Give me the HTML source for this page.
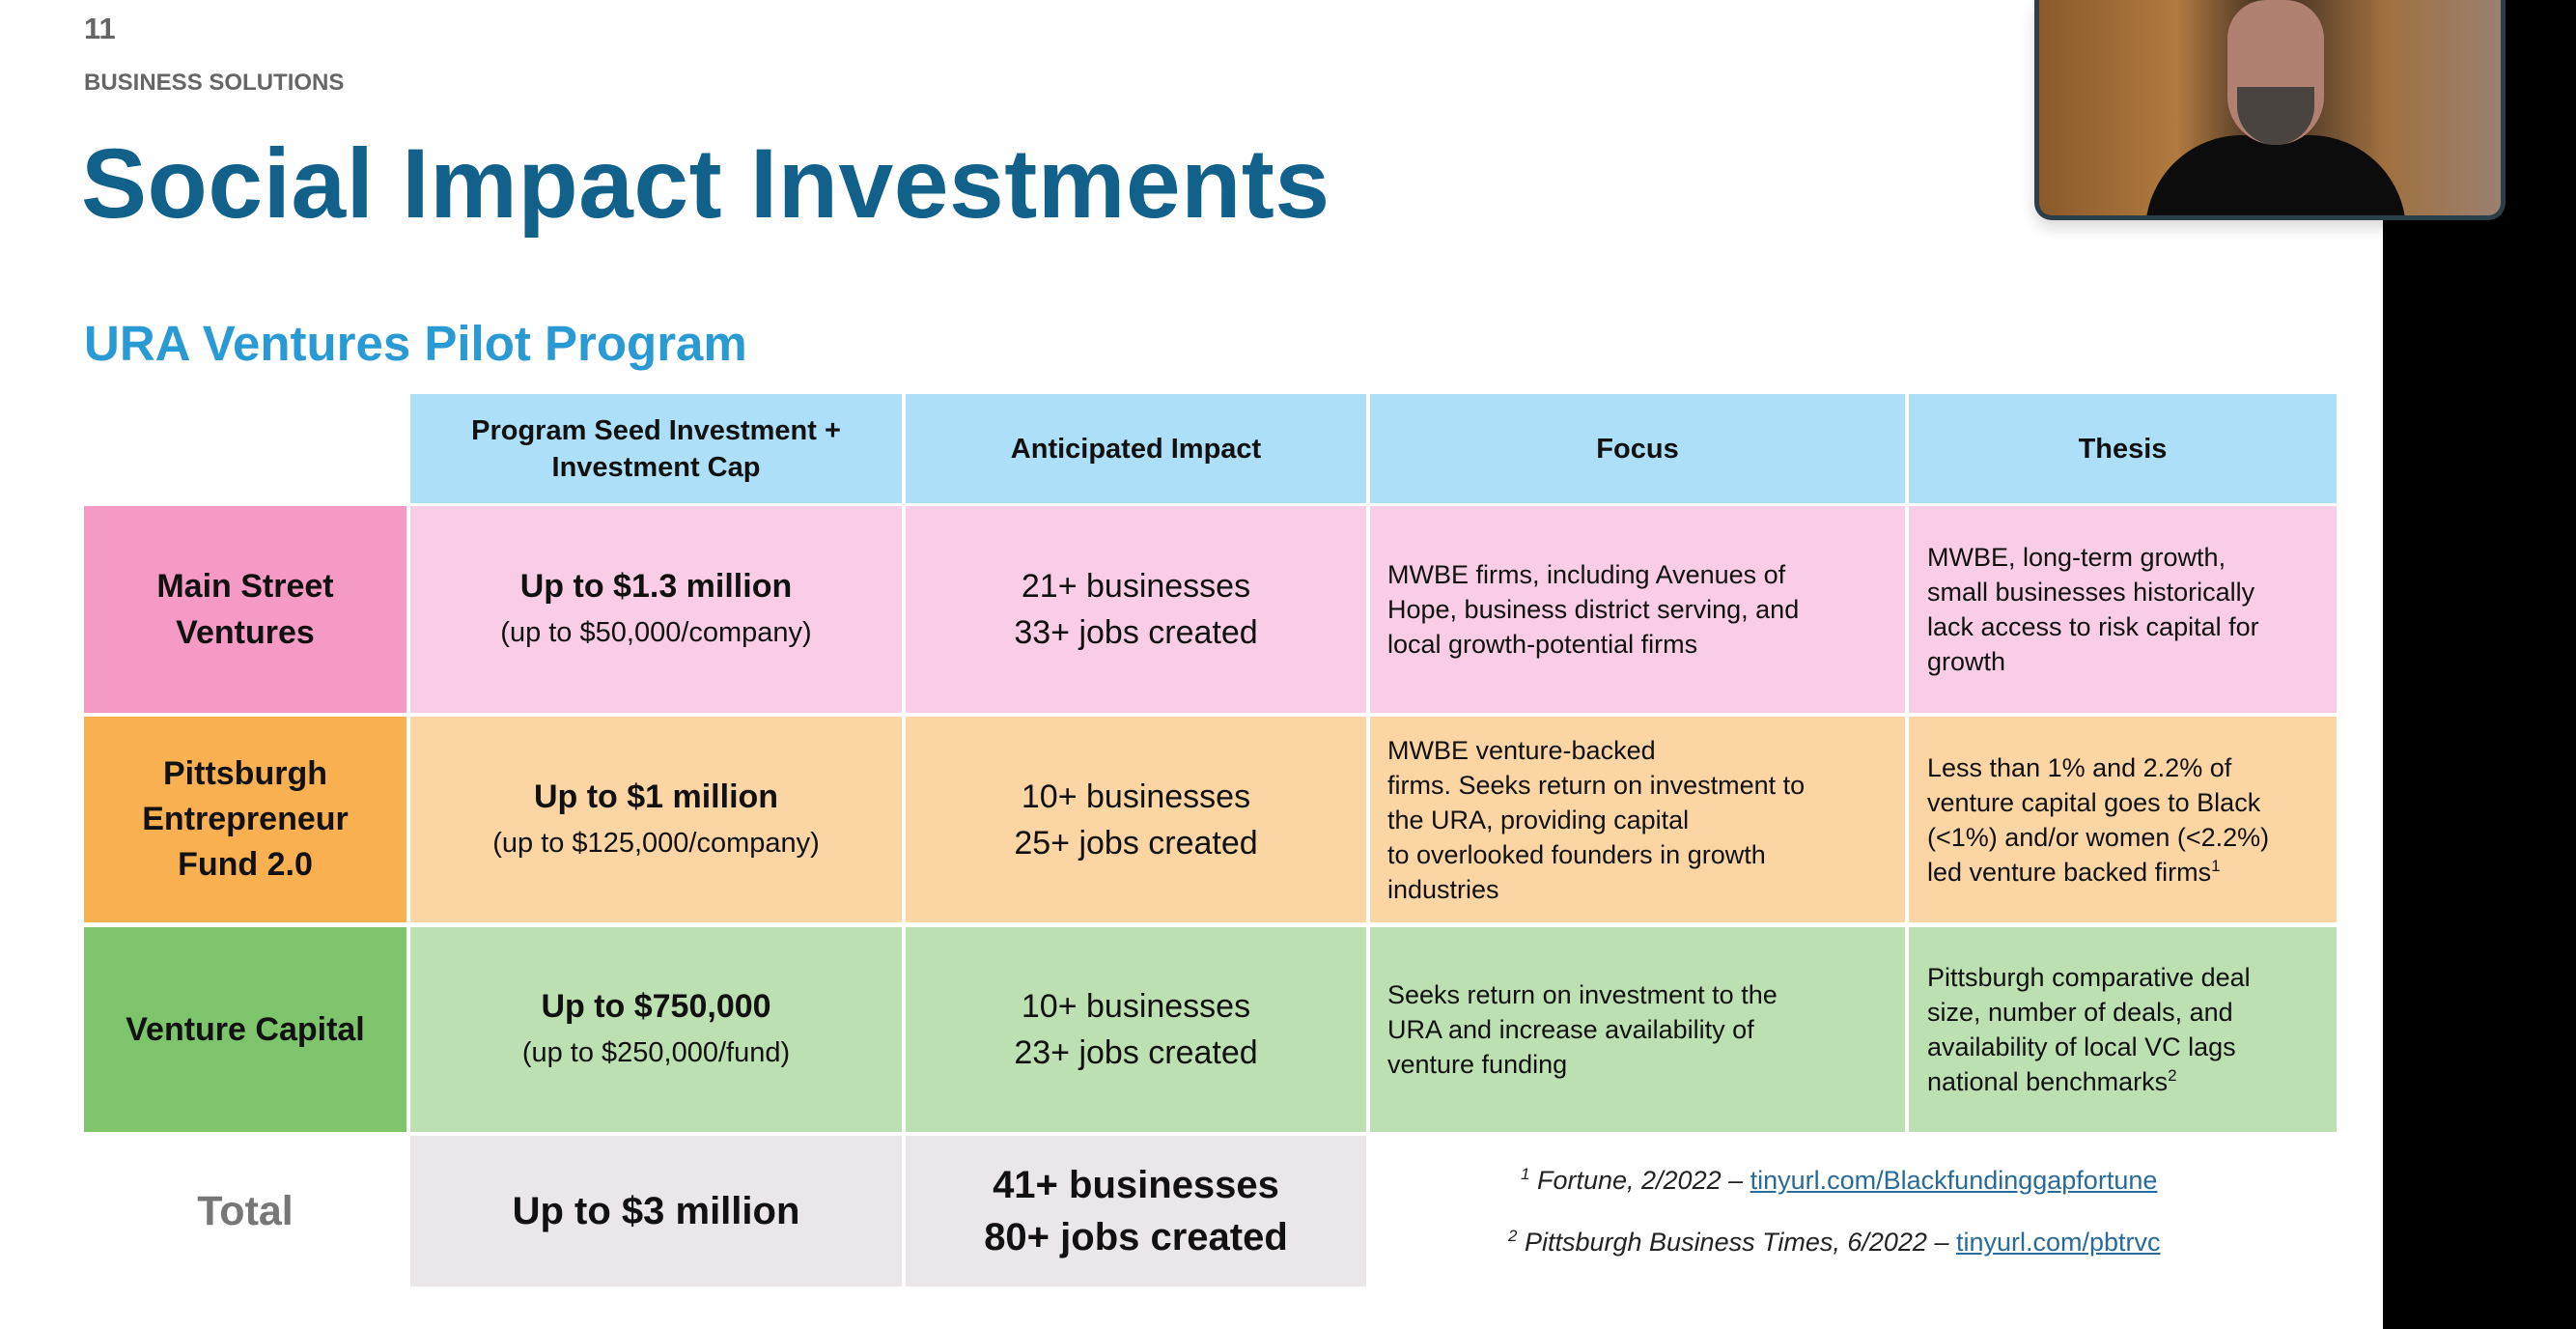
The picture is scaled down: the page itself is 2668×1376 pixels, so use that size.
<!DOCTYPE html>
<html><head><meta charset="utf-8"><style>
*{margin:0;padding:0;box-sizing:border-box}
body{width:2668px;height:1376px;background:#fff;position:relative;overflow:hidden;font-family:"Liberation Sans",Arial,sans-serif;color:#111}
.a{position:absolute}
.c{position:absolute;display:flex;flex-direction:column;justify-content:center;align-items:center;text-align:center}
.l{align-items:flex-start;text-align:left;padding-left:18px}
.h{background:#ade0f8;font-weight:bold;font-size:29px;line-height:38px}
.b{font-weight:bold}
.p1{background:#f9cde5}.p2{background:#fcd5a4}.p3{background:#bde0b2}
.t{font-size:27px;line-height:36px}
.m{font-size:34px;line-height:48px}
.s{font-size:29px;line-height:48px}
.fn{font-size:27px;font-style:italic;color:#222;white-space:nowrap}
.fn a{color:#2a6a9a;text-decoration:underline;font-style:normal}
sup{font-size:17px;line-height:0}
</style></head><body>
<div class="a" style="left:87px;top:12px;font-size:31px;font-weight:bold;color:#666">11</div>
<div class="a" style="left:87px;top:72px;font-size:24px;font-weight:bold;color:#666">BUSINESS SOLUTIONS</div>
<div class="a" style="left:84px;top:132px;font-size:102px;font-weight:bold;color:#11618a;letter-spacing:0.5px">Social Impact Investments</div>
<div class="a" style="left:87px;top:326px;font-size:51px;font-weight:bold;color:#2a9ad4">URA Ventures Pilot Program</div>

<div class="a" style="left:2468px;top:0;width:200px;height:1376px;background:#000"></div>
<div class="a" style="left:2107px;top:0;width:488px;height:228px;background:linear-gradient(90deg,#8a5a2a,#b07a40 30%,#3a2a20 50%,#a07040 75%,#9a8070);border:5px solid #2c3e48;border-top:none;border-radius:0 0 18px 18px;box-shadow:0 8px 16px rgba(0,0,0,0.15);overflow:hidden">
<div class="a" style="left:110px;top:140px;width:270px;height:100px;background:#0c0c0c;border-radius:120px 120px 0 0"></div>
<div class="a" style="left:195px;top:0px;width:100px;height:150px;background:#b08070;border-radius:40px 40px 50px 50px"></div>
<div class="a" style="left:205px;top:90px;width:80px;height:60px;background:#4a4440;border-radius:0 0 40px 40px"></div>
</div>

<div class="c h" style="left:425px;top:408px;width:509px;height:113px"><div>Program Seed Investment +<br>Investment Cap</div></div>
<div class="c h" style="left:938px;top:408px;width:477px;height:113px">Anticipated Impact</div>
<div class="c h" style="left:1419px;top:408px;width:554px;height:113px">Focus</div>
<div class="c h" style="left:1977px;top:408px;width:443px;height:113px">Thesis</div>

<div class="c b" style="left:87px;top:524px;width:334px;height:214px;background:#f59ac4;font-size:34px;line-height:48px"><div>Main Street<br>Ventures</div></div>
<div class="c p1" style="left:425px;top:524px;width:509px;height:214px"><div class="m b">Up to $1.3 million</div><div class="s">(up to $50,000/company)</div></div>
<div class="c p1 m" style="left:938px;top:524px;width:477px;height:214px"><div>21+ businesses<br>33+ jobs created</div></div>
<div class="c p1 l t" style="left:1419px;top:524px;width:554px;height:214px"><div>MWBE firms, including Avenues of<br>Hope, business district serving, and<br>local growth-potential firms</div></div>
<div class="c p1 l t" style="left:1977px;top:524px;width:443px;height:214px;padding-left:19px"><div>MWBE, long-term growth,<br>small businesses historically<br>lack access to risk capital for<br>growth</div></div>

<div class="c b" style="left:87px;top:742px;width:334px;height:213px;background:#f9b050;font-size:34px;line-height:47px"><div>Pittsburgh<br>Entrepreneur<br>Fund 2.0</div></div>
<div class="c p2" style="left:425px;top:742px;width:509px;height:213px"><div class="m b">Up to $1 million</div><div class="s">(up to $125,000/company)</div></div>
<div class="c p2 m" style="left:938px;top:742px;width:477px;height:213px"><div>10+ businesses<br>25+ jobs created</div></div>
<div class="c p2 l t" style="left:1419px;top:742px;width:554px;height:213px"><div>MWBE venture-backed<br>firms. Seeks return on investment to<br>the URA, providing capital<br>to overlooked founders in growth<br>industries</div></div>
<div class="c p2 l t" style="left:1977px;top:742px;width:443px;height:213px;padding-left:19px"><div>Less than 1% and 2.2% of<br>venture capital goes to Black<br>(&lt;1%) and/or women (&lt;2.2%)<br>led venture backed firms<sup>1</sup></div></div>

<div class="c b" style="left:87px;top:960px;width:334px;height:212px;background:#7dc46c;font-size:34px">Venture Capital</div>
<div class="c p3" style="left:425px;top:960px;width:509px;height:212px"><div class="m b">Up to $750,000</div><div class="s">(up to $250,000/fund)</div></div>
<div class="c p3 m" style="left:938px;top:960px;width:477px;height:212px"><div>10+ businesses<br>23+ jobs created</div></div>
<div class="c p3 l t" style="left:1419px;top:960px;width:554px;height:212px"><div>Seeks return on investment to the<br>URA and increase availability of<br>venture funding</div></div>
<div class="c p3 l t" style="left:1977px;top:960px;width:443px;height:212px;padding-left:19px"><div>Pittsburgh comparative deal<br>size, number of deals, and<br>availability of local VC lags<br>national benchmarks<sup>2</sup></div></div>

<div class="c b" style="left:87px;top:1176px;width:334px;height:156px;font-size:43px;color:#777">Total</div>
<div class="c b" style="left:425px;top:1176px;width:509px;height:156px;background:#ebe6ea;font-size:40px">Up to $3 million</div>
<div class="c b" style="left:938px;top:1176px;width:477px;height:156px;background:#ebe6ea;font-size:40px;line-height:54px"><div>41+ businesses<br>80+ jobs created</div></div>
<div class="a fn" style="left:1575px;top:1207px"><sup>1</sup> Fortune, 2/2022 – <a>tinyurl.com/Blackfundinggapfortune</a></div>
<div class="a fn" style="left:1562px;top:1271px"><sup>2</sup> Pittsburgh Business Times, 6/2022 – <a>tinyurl.com/pbtrvc</a></div>
</body></html>
